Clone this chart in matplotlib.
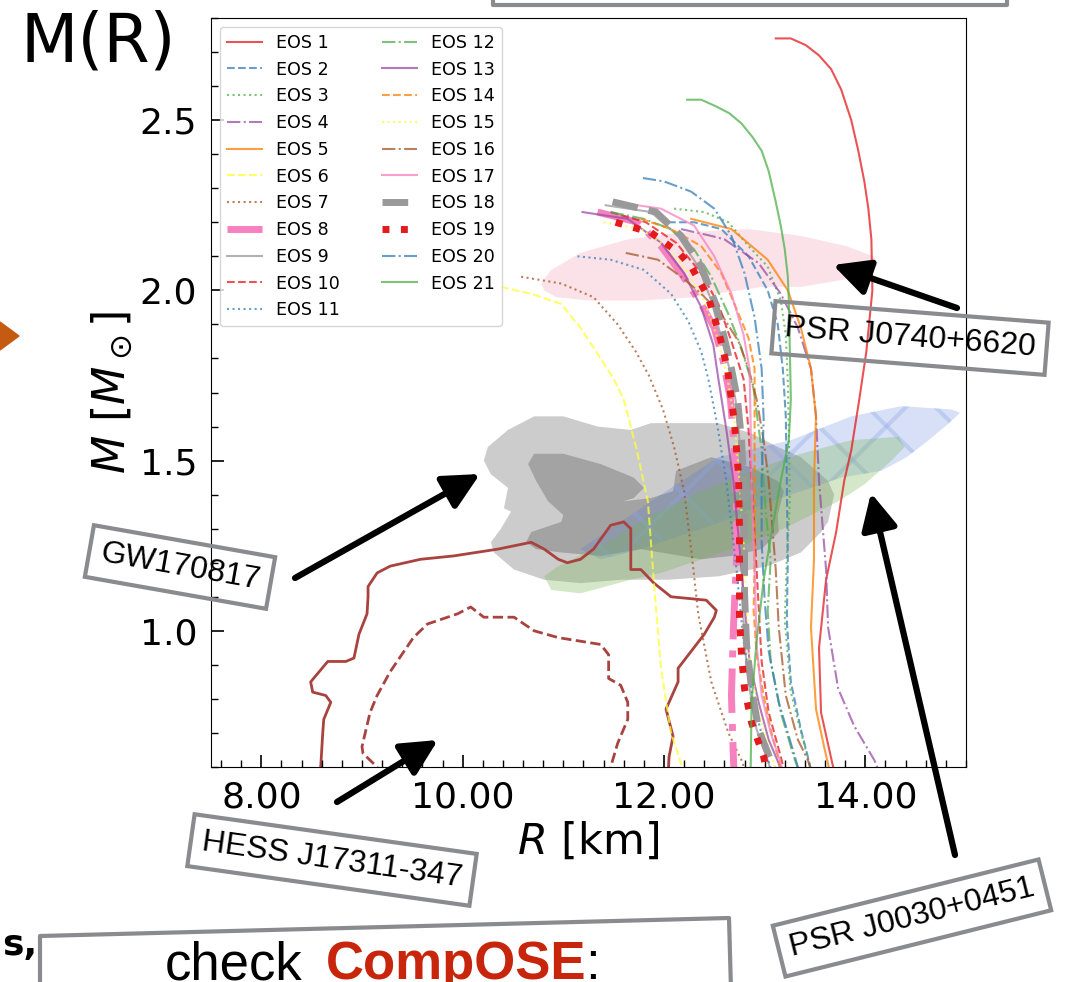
import matplotlib
matplotlib.use("Agg")
import matplotlib.pyplot as plt
import numpy as np
from matplotlib.patches import Polygon, FancyArrowPatch
from matplotlib.lines import Line2D
from matplotlib.ticker import MultipleLocator, FormatStrFormatter

W, H = 1066, 982

# Mass-radius curves, radius in km and mass in solar masses
eos1_r = [13.11, 13.26, 13.41, 13.54, 13.66, 13.76, 13.86, 13.93, 13.99, 14.03, 14.06, 14.07, 14.01, 13.94, 13.86, 13.79,
          13.71, 13.61, 13.54, 13.56, 13.68, 13.74]
eos1_m = [2.74, 2.74, 2.72, 2.69, 2.65, 2.59, 2.50, 2.41, 2.32, 2.24, 2.15, 2.00, 1.82, 1.68, 1.53, 1.44,
          1.29, 1.15, 0.95, 0.76, 0.60, 0.53]
eos2_r = [12.04, 12.30, 12.57, 12.84, 13.03, 13.13, 13.18, 13.21, 13.22, 13.23, 13.22, 13.26, 13.36, 13.48]
eos2_m = [2.20, 2.20, 2.18, 2.10, 2.00, 1.90, 1.77, 1.63, 1.44, 1.21, 1.03, 0.85, 0.71, 0.57]
eos3_r = [12.10, 12.40, 12.64, 12.84, 13.03, 13.16, 13.21, 13.23, 13.24, 13.25, 13.22, 13.20, 13.26, 13.38, 13.48]
eos3_m = [2.24, 2.23, 2.20, 2.13, 2.07, 1.97, 1.87, 1.73, 1.58, 1.38, 1.21, 1.03, 0.82, 0.68, 0.57]
eos4_r = [12.17, 12.47, 12.60, 12.94, 13.16, 13.33, 13.46, 13.51, 13.54, 13.61, 13.63, 13.73, 13.89, 14.09, 14.16]
eos4_m = [2.18, 2.16, 2.15, 2.08, 1.99, 1.89, 1.77, 1.63, 1.44, 1.18, 1.01, 0.83, 0.72, 0.62, 0.57]
eos5_r = [12.27, 12.67, 13.03, 13.23, 13.36, 13.46, 13.51, 13.49, 13.49, 13.46, 13.51, 13.59, 13.66]
eos5_m = [2.21, 2.18, 2.09, 2.00, 1.89, 1.77, 1.63, 1.44, 1.21, 1.01, 0.77, 0.66, 0.57]
eos6_r = [10.38, 10.68, 10.98, 11.17, 11.37, 11.50, 11.60, 11.73, 11.84, 11.90, 11.97, 12.07, 12.17, 12.22]
eos6_m = [2.01, 1.99, 1.96, 1.89, 1.80, 1.74, 1.68, 1.53, 1.38, 1.14, 0.89, 0.70, 0.61, 0.57]
eos7_r = [10.58, 10.98, 11.30, 11.54, 11.72, 11.85, 11.99, 12.10, 12.20, 12.27, 12.34, 12.47, 12.64, 12.77, 12.83]
eos7_m = [2.04, 2.02, 1.98, 1.90, 1.82, 1.75, 1.65, 1.54, 1.41, 1.24, 1.05, 0.85, 0.70, 0.62, 0.57]
eos8_r = [11.34, 11.74, 11.97, 12.17, 12.37, 12.50, 12.59, 12.66, 12.70, 12.72, 12.72, 12.69, 12.67, 12.69, 12.70]
eos8_m = [2.23, 2.20, 2.13, 2.05, 1.96, 1.89, 1.79, 1.68, 1.53, 1.38, 1.21, 1.01, 0.81, 0.62, 0.57]
eos9_r = [11.42, 11.87, 12.14, 12.34, 12.47, 12.57, 12.65, 12.71, 12.75, 12.77, 12.78, 12.78, 12.80, 12.85, 12.92, 13.03, 13.08]
eos9_m = [2.25, 2.23, 2.16, 2.07, 1.97, 1.86, 1.77, 1.68, 1.56, 1.44, 1.29, 1.11, 0.96, 0.83, 0.71, 0.62, 0.57]
eos10_r = [11.47, 11.82, 12.12, 12.37, 12.54, 12.67, 12.79, 12.84, 12.87, 12.92, 12.97, 13.04, 13.16, 13.21]
eos10_m = [2.23, 2.20, 2.14, 2.05, 1.96, 1.85, 1.74, 1.59, 1.44, 1.18, 0.91, 0.76, 0.63, 0.57]
eos11_r = [11.14, 11.47, 11.80, 12.07, 12.24, 12.37, 12.44, 12.52, 12.62, 12.72, 12.79, 12.89, 13.01, 13.08]
eos11_m = [2.10, 2.09, 2.06, 1.99, 1.91, 1.82, 1.74, 1.62, 1.44, 1.18, 0.97, 0.79, 0.65, 0.57]
eos12_r = [11.47, 11.80, 12.07, 12.30, 12.47, 12.64, 12.77, 12.89, 12.97, 13.01, 13.06, 13.03, 13.06, 13.16, 13.29, 13.36]
eos12_m = [2.23, 2.21, 2.18, 2.12, 2.04, 1.93, 1.83, 1.71, 1.53, 1.35, 1.21, 1.06, 0.91, 0.76, 0.63, 0.57]
eos13_r = [11.19, 11.64, 11.97, 12.20, 12.37, 12.49, 12.54, 12.62, 12.69, 12.77, 12.85, 12.94, 13.04, 13.14, 13.18]
eos13_m = [2.23, 2.21, 2.14, 2.05, 1.95, 1.84, 1.74, 1.59, 1.44, 1.18, 0.91, 0.79, 0.68, 0.61, 0.57]
eos14_r = [11.77, 12.07, 12.37, 12.57, 12.70, 12.84, 12.90, 12.90, 12.90, 12.90, 12.89, 12.92, 12.99, 13.06, 13.14, 13.18]
eos14_m = [2.21, 2.18, 2.13, 2.05, 1.96, 1.86, 1.77, 1.62, 1.44, 1.19, 1.06, 0.93, 0.81, 0.71, 0.62, 0.57]
eos15_r = [11.40, 11.77, 12.02, 12.22, 12.40, 12.52, 12.62, 12.70, 12.75, 12.79, 12.82, 12.85, 12.94, 13.08, 13.13]
eos15_m = [2.20, 2.18, 2.13, 2.06, 1.97, 1.87, 1.76, 1.62, 1.44, 1.26, 1.09, 0.91, 0.76, 0.62, 0.57]
eos16_r = [11.62, 11.94, 12.17, 12.37, 12.57, 12.74, 12.84, 12.92, 12.99, 13.04, 13.11, 13.14, 13.21, 13.33, 13.43, 13.48]
eos16_m = [2.11, 2.09, 2.04, 1.99, 1.93, 1.85, 1.77, 1.68, 1.56, 1.44, 1.18, 1.01, 0.81, 0.68, 0.62, 0.57]
eos17_r = [11.50, 11.97, 12.30, 12.50, 12.67, 12.79, 12.85, 12.86, 12.87, 12.90, 12.92, 12.97, 13.06, 13.16, 13.20]
eos17_m = [2.26, 2.24, 2.19, 2.10, 1.99, 1.87, 1.77, 1.62, 1.44, 1.18, 0.96, 0.81, 0.70, 0.61, 0.57]
eos18_r = [11.49, 11.92, 12.17, 12.37, 12.50, 12.60, 12.67, 12.73, 12.77, 12.79, 12.80, 12.80, 12.82, 12.87, 12.94, 13.06, 13.11]
eos18_m = [2.26, 2.23, 2.16, 2.07, 1.97, 1.86, 1.77, 1.68, 1.56, 1.44, 1.29, 1.11, 0.96, 0.83, 0.71, 0.62, 0.57]
eos19_r = [11.52, 11.87, 12.15, 12.27, 12.44, 12.55, 12.63, 12.70, 12.74, 12.75, 12.75, 12.77, 12.80, 12.87, 12.99, 13.03]
eos19_m = [2.20, 2.17, 2.11, 2.07, 1.98, 1.87, 1.77, 1.61, 1.46, 1.30, 1.04, 0.93, 0.83, 0.73, 0.63, 0.57]
eos20_r = [11.79, 12.00, 12.27, 12.50, 12.67, 12.80, 12.90, 12.97, 12.99, 12.97, 12.97, 13.00, 13.04, 13.14, 13.28, 13.36]
eos20_m = [2.33, 2.32, 2.29, 2.24, 2.16, 2.05, 1.92, 1.77, 1.62, 1.44, 1.26, 1.09, 0.94, 0.79, 0.65, 0.57]
eos21_r = [12.23, 12.37, 12.52, 12.65, 12.77, 12.88, 12.97, 13.04, 13.11, 13.16, 13.20, 13.23, 13.24, 13.26, 13.24,
           13.16, 13.07, 12.99, 12.92, 12.87, 12.86]
eos21_m = [2.56, 2.56, 2.54, 2.52, 2.49, 2.45, 2.41, 2.35, 2.26, 2.19, 2.12, 2.04, 1.97, 1.68, 1.56,
           1.44, 1.29, 1.15, 0.97, 0.79, 0.57]

# Observational constraints
gw_outer_r = [10.21, 10.25, 10.45, 10.71, 11.00, 11.34, 11.67, 11.87, 12.54, 12.87, 13.13, 13.36, 13.63, 13.69, 13.63, 13.56,
              13.36, 13.03, 12.54, 12.04, 11.57, 11.17, 10.81, 10.51, 10.31, 10.28, 10.38, 10.48, 10.41, 10.45, 10.28]
gw_outer_m = [1.50, 1.54, 1.59, 1.63, 1.63, 1.60, 1.59, 1.61, 1.61, 1.58, 1.54, 1.51, 1.44, 1.40, 1.32, 1.29,
              1.23, 1.19, 1.16, 1.15, 1.15, 1.14, 1.15, 1.18, 1.23, 1.26, 1.30, 1.35, 1.36, 1.42, 1.46]
gw_inner_r = [10.65, 10.71, 11.00, 11.37, 11.70, 11.80, 11.70, 11.59, 11.87, 12.09, 12.12, 12.47, 12.87, 13.13, 13.19, 13.13,
              13.14, 12.97, 12.67, 12.37, 11.97, 11.77, 11.37, 10.98, 10.73, 10.63, 10.68, 10.98, 11.00, 10.85, 10.73]
gw_inner_m = [1.49, 1.52, 1.52, 1.49, 1.45, 1.42, 1.39, 1.38, 1.39, 1.41, 1.47, 1.51, 1.48, 1.44, 1.41, 1.34,
              1.29, 1.24, 1.22, 1.21, 1.23, 1.24, 1.22, 1.23, 1.24, 1.26, 1.29, 1.32, 1.34, 1.38, 1.44]
j0030_a_r = [11.17, 11.57, 11.97, 12.54, 12.97, 13.26, 13.86, 14.36, 14.86, 14.94, 14.83, 14.63, 14.41, 14.16, 13.76, 13.36,
             12.97, 12.57, 12.17, 11.77, 11.37]
j0030_a_m = [1.24, 1.32, 1.40, 1.51, 1.54, 1.56, 1.63, 1.66, 1.65, 1.64, 1.61, 1.56, 1.51, 1.47, 1.45, 1.41,
             1.37, 1.32, 1.28, 1.24, 1.21]
j0030_b_r = [10.81, 10.95, 11.37, 11.87, 12.37, 12.87, 13.36, 13.86, 14.33, 14.39, 14.26, 13.99, 13.73, 13.46, 13.19, 12.77,
             12.37, 11.97, 11.67, 11.17, 10.88]
j0030_b_m = [1.16, 1.19, 1.25, 1.34, 1.41, 1.47, 1.52, 1.56, 1.57, 1.54, 1.50, 1.43, 1.38, 1.34, 1.30, 1.25,
             1.21, 1.17, 1.15, 1.11, 1.12]
j0740_r = [10.78, 10.88, 11.17, 11.64, 12.17, 12.84, 13.36, 13.81, 14.08, 14.13, 14.06, 13.76, 13.36, 12.97, 12.30, 11.77,
           11.27, 10.93, 10.81]
j0740_m = [2.02, 2.06, 2.11, 2.15, 2.17, 2.18, 2.16, 2.13, 2.10, 2.08, 2.05, 2.03, 2.01, 2.01, 1.98, 1.97,
           1.97, 1.98, 2.00]
hess_outer_r = [8.59, 8.59, 8.61, 8.62, 8.69, 8.64, 8.51, 8.49, 8.66, 8.84, 8.92, 8.97, 9.05, 9.06, 9.06, 9.15, 9.28, 9.58,
                9.91, 10.35, 10.68, 10.81, 10.95, 11.04, 11.17, 11.30, 11.47, 11.60, 11.67, 11.67, 11.77, 11.90, 12.07,
                12.42, 12.52, 12.50, 12.40, 12.27, 12.14, 12.14, 12.02, 12.09, 12.05, 12.04]
hess_outer_m = [0.57, 0.60, 0.70, 0.74, 0.79, 0.81, 0.82, 0.85, 0.91, 0.91, 0.92, 0.99, 1.05, 1.10, 1.13, 1.17, 1.19, 1.21,
                1.22, 1.24, 1.26, 1.24, 1.21, 1.20, 1.21, 1.24, 1.31, 1.32, 1.30, 1.18, 1.18, 1.14, 1.10,
                1.09, 1.06, 1.04, 0.99, 0.94, 0.89, 0.85, 0.77, 0.69, 0.63, 0.57]
hess_inner_r = [9.15, 9.15, 9.01, 9.00, 9.08, 9.15, 9.28, 9.51, 9.65, 9.95, 10.08, 10.21, 10.51, 10.71, 10.95, 11.37,
                11.45, 11.45, 11.57, 11.64, 11.64, 11.54, 11.47, 11.45]
hess_inner_m = [0.57, 0.60, 0.64, 0.66, 0.76, 0.81, 0.88, 0.98, 1.02, 1.05, 1.07, 1.04, 1.04, 1.00, 0.98, 0.96,
                0.93, 0.86, 0.84, 0.79, 0.74, 0.67, 0.60, 0.57]

eos_curves = [
    (eos1_r, eos1_m), (eos2_r, eos2_m), (eos3_r, eos3_m), (eos4_r, eos4_m), (eos5_r, eos5_m),
    (eos6_r, eos6_m), (eos7_r, eos7_m), (eos8_r, eos8_m), (eos9_r, eos9_m), (eos10_r, eos10_m),
    (eos11_r, eos11_m), (eos12_r, eos12_m), (eos13_r, eos13_m), (eos14_r, eos14_m), (eos15_r, eos15_m),
    (eos16_r, eos16_m), (eos17_r, eos17_m), (eos18_r, eos18_m), (eos19_r, eos19_m), (eos20_r, eos20_m),
    (eos21_r, eos21_m),
]
eos_labels = [f"EOS {i}" for i in range(1, 22)]
THICK = {8, 18, 19}

SET1 = ["#e41a1c", "#377eb8", "#4daf4a", "#984ea3", "#ff7f00", "#ffff33", "#a65628", "#f781bf", "#999999"]
STYLES = ["-", "--", ":", "-."]
CONTOUR = "#a9433f"
BOX_EDGE = "#8a8b8f"


def fx(x, y):
    """Pixel position on the slide -> figure fraction."""
    return (x / W, 1 - y / H)


fig = plt.figure(figsize=(W / 100, H / 100), dpi=100)
ax = fig.add_axes([211 / W, 1 - 767 / H, 755 / W, 749 / H])

# Constraint regions
ax.fill(j0740_r, j0740_m, color="#f8bfd0", alpha=0.45, lw=0, zorder=1)
ax.fill(gw_outer_r, gw_outer_m, color="k", alpha=0.2, lw=0, zorder=1)
ax.fill(gw_inner_r, gw_inner_m, color="k", alpha=0.2, lw=0, zorder=1)
blue = ax.fill(j0030_a_r, j0030_a_m, color="#4d73d9", alpha=0.22, lw=0, zorder=1)[0]
for off in np.arange(-1.0, 1.0, 0.09):
    for x0, x1 in ((off, off + 1), (off + 1, off)):
        ln, = ax.plot([x0, x1], [0, 1], transform=ax.transAxes, color="#8da6e6",
                      lw=3, alpha=0.35, zorder=1.1)
        ln.set_clip_path(blue)
ax.fill(j0030_b_r, j0030_b_m, color="#73b34d", alpha=0.3, lw=0, zorder=1.2)

ax.plot(hess_outer_r, hess_outer_m, color=CONTOUR, lw=2, zorder=1.5)
ax.plot(hess_inner_r, hess_inner_m, color=CONTOUR, lw=2, ls="--", zorder=1.5)

# EOS curves
for i, ((r, m), label) in enumerate(zip(eos_curves, eos_labels)):
    thick = (i + 1) in THICK
    ax.plot(r, m, color=SET1[i % 9], ls=STYLES[i % 4], lw=5 if thick else 1.5,
            alpha=1.0 if thick else 0.75, label=label, zorder=2)

ax.set_xlim(7.5, 15.0)
ax.set_ylim(0.6, 2.8)
ax.xaxis.set_major_locator(MultipleLocator(2))
ax.xaxis.set_minor_locator(MultipleLocator(0.2))
ax.xaxis.set_major_formatter(FormatStrFormatter("%.2f"))
ax.yaxis.set_major_locator(MultipleLocator(0.5))
ax.yaxis.set_minor_locator(MultipleLocator(0.1))
ax.yaxis.set_major_formatter(FormatStrFormatter("%.1f"))
ax.tick_params(which="both", direction="in", labelsize=26, pad=10)
ax.tick_params(which="major", length=9, width=1.2)
ax.tick_params(which="minor", length=5, width=1)
ax.set_xlabel(r"$R$ [km]", fontsize=31)
ax.set_ylabel(r"$M$ [$M_\odot$]", fontsize=32)
ax.legend(loc="upper left", ncol=2, fontsize=12.6, columnspacing=2.4)

# Slide decorations around the plot
fig.text(20 / W, 1 - 42 / H, "M(R)", fontsize=48, ha="left", va="center")
fig.add_artist(Polygon([fx(0, 322), fx(19, 336), fx(0, 350)], closed=True,
                       transform=fig.transFigure, color="#c55a11"))
fig.add_artist(Line2D(*zip(fx(493, -5), fx(493, 5), fx(1007, 5), fx(1007, -5)),
                      transform=fig.transFigure, color=BOX_EDGE, lw=3))
fig.add_artist(Line2D(*zip(fx(40, 990), fx(40, 936), fx(729, 918), fx(731, 990)),
                      transform=fig.transFigure, color=BOX_EDGE, lw=3))
fig.text(37 / W, 1 - 955 / H, "s,", fontsize=26, weight="bold", ha="right", va="baseline")
fig.text(165 / W, 1 - 979 / H, "check", fontsize=38, family="Liberation Sans", va="baseline")
fig.text(326 / W, 1 - 979 / H, "CompOSE", fontsize=38, family="Liberation Sans",
         weight="bold", color="#c8250d", va="baseline")
fig.text(585 / W, 1 - 979 / H, ":", fontsize=38, family="Liberation Sans", va="baseline")

labels = [
    ("GW170817", (180, 567), -10, (295, 578), (480, 474)),
    ("HESS J17311-347", (332, 860), -8, (337, 802), (438, 740)),
    ("PSR J0740+6620", (910, 338), -4.5, (957, 308), (833, 265)),
    ("PSR J0030+0451", (912, 918), 14, (955, 855), (871, 493)),
]
for text, (cx, cy), rot, tail, tip in labels:
    fig.text(cx / W, 1 - cy / H, text, fontsize=23, family="Liberation Sans",
             rotation=rot, rotation_mode="anchor", ha="center", va="center",
             bbox=dict(boxstyle="square,pad=0.35", fc="none", ec=BOX_EDGE, lw=3))
    fig.add_artist(FancyArrowPatch(fx(*tail), fx(*tip), transform=fig.transFigure,
                                   arrowstyle="-|>,head_length=1.1,head_width=0.55",
                                   mutation_scale=20, lw=4.5, color="k",
                                   shrinkA=0, shrinkB=0))

fig.savefig("out.png", dpi=100)
